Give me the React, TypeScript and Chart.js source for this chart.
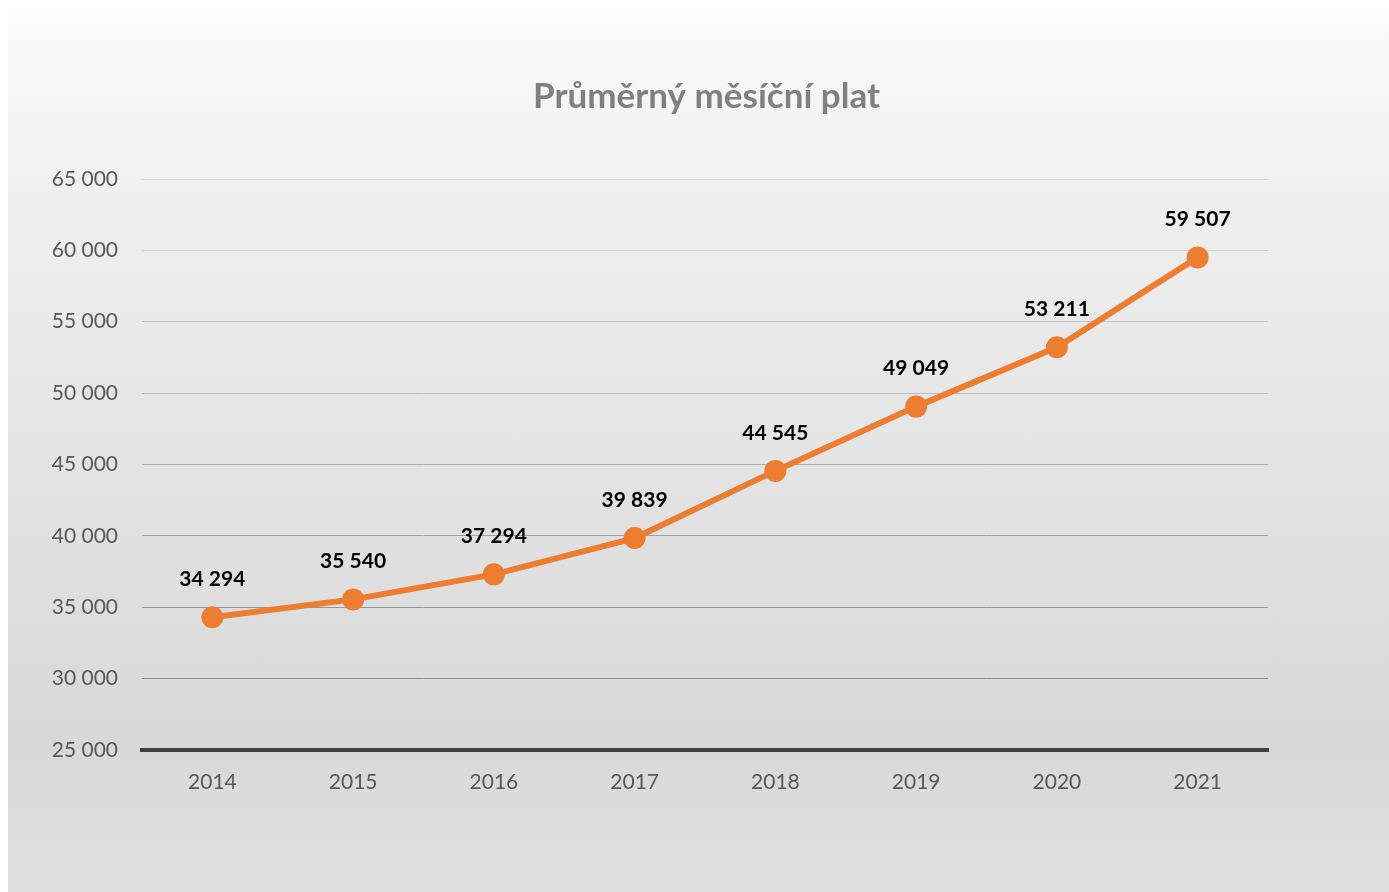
import React, { useEffect, useRef } from "react";
import { Chart, registerables } from "chart.js";

Chart.register(...registerables);

const TITLE = "Průměrný měsíční plat";
const YEARS = ["2014", "2015", "2016", "2017", "2018", "2019", "2020", "2021"];
const SALARY = [34294, 35540, 37294, 39839, 44545, 49049, 53211, 59507];
const Y_MIN = 25000;
const Y_MAX = 65000;
const Y_STEP = 5000;

const FONT = "Lato, 'Open Sans', sans-serif";
const ORANGE = "#ED7D31";

const fmt = (v: number) => {
  const s = Math.round(v).toString();
  return s.replace(/\B(?=(\d{3})+(?!\d))/g, " ");
};

const dataLabels = {
  id: "dataLabels",
  afterDatasetsDraw(chart: any) {
    const ctx = chart.ctx;
    const meta = chart.getDatasetMeta(0);
    ctx.save();
    ctx.font = `bold 21px ${FONT}`;
    ctx.fillStyle = "#000000";
    ctx.textAlign = "center";
    ctx.textBaseline = "middle";
    meta.data.forEach((pt: any, i: number) => {
      ctx.fillText(fmt(SALARY[i]), pt.x, pt.y - 38);
    });
    ctx.restore();
  },
};

const titlePlugin = {
  id: "customTitle",
  afterDraw(chart: any) {
    const ctx = chart.ctx;
    ctx.save();
    ctx.font = `bold 35px ${FONT}`;
    ctx.fillStyle = "#808080";
    ctx.textAlign = "center";
    ctx.textBaseline = "middle";
    ctx.fillText(TITLE, chart.width / 2 + 8, 89);
    ctx.restore();
  },
};

export default function App() {
  const ref = useRef<HTMLCanvasElement>(null);
  useEffect(() => {
    if (!ref.current) return;
    const chart = new Chart(ref.current, {
      type: "line",
      data: {
        labels: YEARS,
        datasets: [
          {
            data: SALARY,
            borderColor: ORANGE,
            backgroundColor: ORANGE,
            borderWidth: 6,
            pointRadius: 11,
            pointHoverRadius: 11,
            pointBorderWidth: 0,
            pointBackgroundColor: ORANGE,
            tension: 0,
          },
        ],
      },
      options: {
        animation: false,
        responsive: true,
        maintainAspectRatio: false,
        layout: { padding: { left: 0, right: 121, top: 171, bottom: 77 } },
        plugins: {
          legend: { display: false },
          tooltip: { enabled: false },
          title: { display: false },
        },
        scales: {
          x: {
            offset: true,
            grid: { display: false, drawTicks: false },
            border: { display: true, color: "#404040", width: 4 },
            ticks: {
              color: "#595959",
              font: { family: FONT, size: 21 },
              padding: 20,
              maxRotation: 0,
            },
          },
          y: {
            min: Y_MIN,
            max: Y_MAX,
            afterFit: (s: any) => {
              s.width = 134;
            },
            grid: {
              drawTicks: false,
              lineWidth: (c: any) => (c.tick && c.tick.value === Y_MIN ? 0 : 1),
              color: (c: any) => {
                const v = c.tick ? c.tick.value : Y_MAX;
                const t = (Y_MAX - v) / (Y_MAX - Y_MIN - Y_STEP);
                const g = Math.round(218 - t * (218 - 140));
                return `rgb(${g},${g},${g})`;
              },
            },
            border: { display: false },
            ticks: {
              stepSize: Y_STEP,
              color: "#595959",
              font: { family: FONT, size: 21 },
              padding: 24,
              callback: (v: any) => fmt(Number(v)),
            },
          },
        },
      },
      plugins: [dataLabels, titlePlugin],
    });
    return () => chart.destroy();
  }, []);

  return (
    <div
      style={{
        position: "fixed",
        left: 8,
        top: 8,
        right: 0,
        bottom: 0,
        background:
          "linear-gradient(to bottom, #fbfbfb 0%, #efefef 22%, #d8d8d8 83%, #e0e0e0 100%)",
      }}
    >
      <canvas ref={ref} />
    </div>
  );
}
